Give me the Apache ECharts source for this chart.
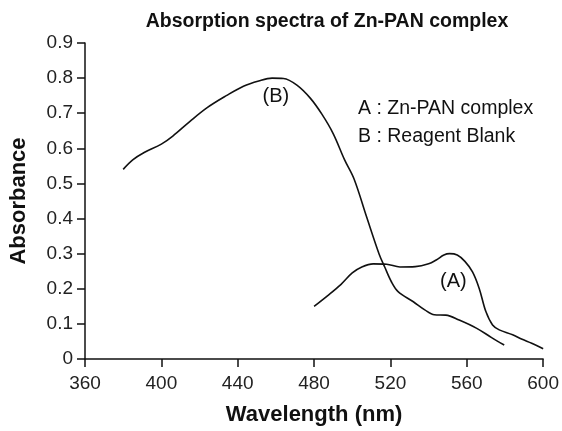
<!DOCTYPE html>
<html>
<head>
<meta charset="utf-8">
<script src="https://cdn.jsdelivr.net/npm/echarts@6/dist/echarts.min.js"></script>
<style>html,body{margin:0;padding:0;background:#fff;}#c{width:562px;height:431px;}</style>
</head>
<body>
<div id="c"></div>
<script>
// Curve A: Zn-PAN complex
var wavelengthA = [480, 487, 494, 500, 505, 511, 518, 525, 533, 540, 544, 548, 551, 555, 559, 563, 566.5, 570, 573.5, 577, 584, 589, 594, 600];
var absorbanceA = [0.15, 0.18, 0.212, 0.245, 0.262, 0.271, 0.27, 0.262, 0.263, 0.271, 0.282, 0.296, 0.3, 0.296, 0.278, 0.248, 0.201, 0.135, 0.097, 0.083, 0.069, 0.056, 0.045, 0.029];
// Curve B: Reagent blank
var wavelengthB = [380, 385, 391, 400, 406, 415, 424, 434, 443, 451, 458, 464, 471, 478, 484, 490, 496, 501, 507.5, 514, 517, 520.5, 524, 532, 538, 543, 549, 556, 565, 573, 579.6];
var absorbanceB = [0.54, 0.567, 0.588, 0.612, 0.635, 0.677, 0.716, 0.75, 0.777, 0.792, 0.8, 0.799, 0.78, 0.743, 0.698, 0.642, 0.567, 0.512, 0.405, 0.3, 0.262, 0.22, 0.192, 0.163, 0.14, 0.126, 0.125, 0.111, 0.088, 0.061, 0.04];
var xTicks = [360, 400, 440, 480, 520, 560, 600];
var yTicks = [0, 0.1, 0.2, 0.3, 0.4, 0.5, 0.6, 0.7, 0.8, 0.9];
var titleText = 'Absorption spectra of Zn-PAN complex';
var legendLines = ['A : Zn-PAN complex', 'B : Reagent Blank'];
var labelA = {text: '(A)', at: [553, 0.221]};
var labelB = {text: '(B)', at: [460, 0.747]};

function zip(xs, ys) { return xs.map(function (x, i) { return [x, ys[i]]; }); }

var FONT = '"Liberation Sans", Arial, sans-serif';
var INK = '#111';

var chart = echarts.init(document.getElementById('c'), null, {renderer: 'canvas'});
chart.setOption({
  animation: false,
  backgroundColor: '#fff',
  grid: {left: 84, right: 18, top: 43, bottom: 70, containLabel: false},
  xAxis: {
    type: 'value', min: xTicks[0], max: xTicks[xTicks.length - 1], interval: 40,
    name: 'Wavelength (nm)', nameLocation: 'middle', nameGap: 45,
    nameTextStyle: {fontFamily: FONT, fontSize: 22, fontWeight: 'bold', color: INK},
    axisLine: {lineStyle: {color: INK, width: 1.5}},
    axisTick: {show: true, inside: false, length: 8, lineStyle: {color: INK, width: 1.5}},
    axisLabel: {fontFamily: FONT, fontSize: 19, color: '#222', margin: 15},
    splitLine: {show: false}
  },
  yAxis: {
    type: 'value', min: yTicks[0], max: yTicks[yTicks.length - 1], interval: 0.1,
    name: 'Absorbance', nameLocation: 'middle', nameGap: 55, nameRotate: 90,
    nameTextStyle: {fontFamily: FONT, fontSize: 22, fontWeight: 'bold', color: INK},
    axisLine: {show: true, lineStyle: {color: INK, width: 1.5}},
    axisTick: {show: true, inside: false, length: 8, lineStyle: {color: INK, width: 1.5}},
    axisLabel: {fontFamily: FONT, fontSize: 19, color: '#222', margin: 12,
      formatter: function (v) { return String(Math.round(v * 10) / 10); }},
    splitLine: {show: false}
  },
  series: [
    {
      name: 'A', type: 'line', data: zip(wavelengthA, absorbanceA), smooth: 0.35,
      showSymbol: false, symbol: 'none',
      lineStyle: {color: INK, width: 1.6},
      markPoint: {symbol: 'circle', symbolSize: 0, silent: true,
        data: [{coord: labelA.at, label: {show: true, formatter: labelA.text, position: 'inside', fontFamily: FONT, fontSize: 20, color: INK}}]}
    },
    {
      name: 'B', type: 'line', data: zip(wavelengthB, absorbanceB), smooth: 0.35,
      showSymbol: false, symbol: 'none',
      lineStyle: {color: INK, width: 1.6},
      markPoint: {symbol: 'circle', symbolSize: 0, silent: true,
        data: [{coord: labelB.at, label: {show: true, formatter: labelB.text, position: 'inside', fontFamily: FONT, fontSize: 20, color: INK}}]}
    }
  ],
  graphic: [
    {type: 'text', x: 327, y: 22, style: {text: titleText, fontFamily: FONT, fontSize: 19.5, fontWeight: 'bold', fill: INK, textAlign: 'center', textVerticalAlign: 'middle'}},
    {type: 'text', x: 358, y: 109, style: {text: legendLines[0], fontFamily: FONT, fontSize: 19.5, fill: INK, textAlign: 'left', textVerticalAlign: 'middle'}},
    {type: 'text', x: 358, y: 137, style: {text: legendLines[1], fontFamily: FONT, fontSize: 19.5, fill: INK, textAlign: 'left', textVerticalAlign: 'middle'}}
  ]
});
</script>
</body>
</html>
